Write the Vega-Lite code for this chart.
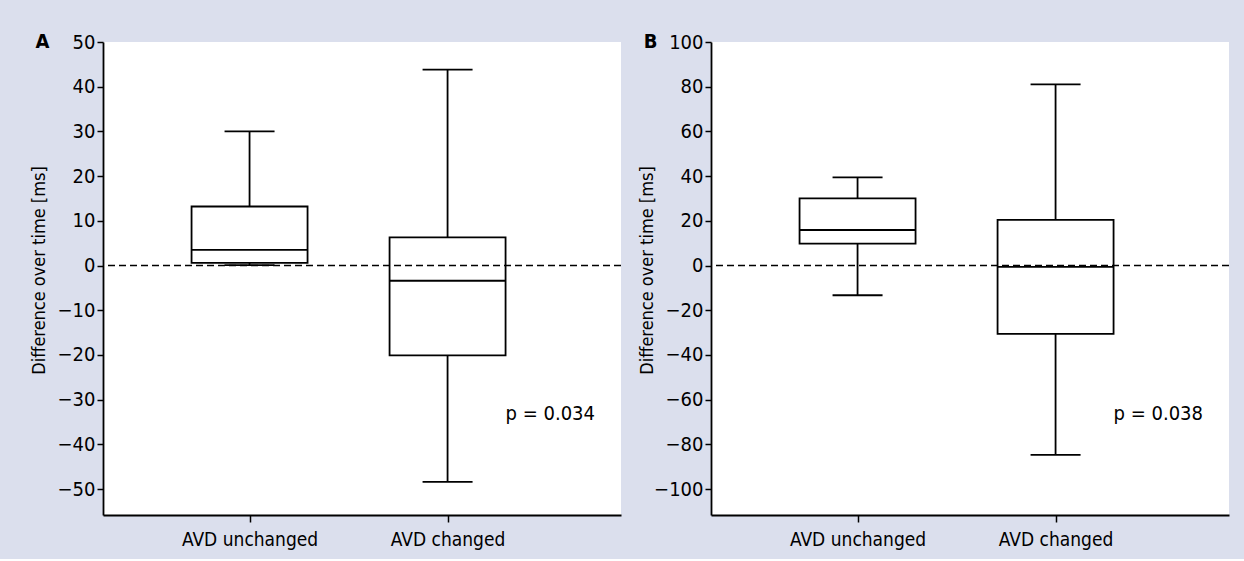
{
  "$schema": "https://vega.github.io/schema/vega-lite/v6.json",
  "background": "#dbdfed",
  "padding": {"left": 30, "top": 32, "right": 14, "bottom": 10},
  "bounds": "flush",
  "spacing": 90,
  "config": {
    "font": "Liberation Sans Narrow, DejaVu Sans Condensed, Roboto Condensed, Arial Narrow, sans-serif",
    "view": {"fill": "white", "stroke": null},
    "axis": {"domainColor": "black", "domainWidth": 1.8, "tickColor": "black", "tickWidth": 1.5, "labelColor": "black", "titleColor": "black", "grid": false, "labelFontSize": 20, "titleFontSize": 18, "titleFontWeight": "normal"}
  },
  "datasets": {
    "panelA": [
      {"group": "AVD unchanged", "min": 0.1, "q1": 0.6, "median": 3.5, "q3": 13.2, "max": 30},
      {"group": "AVD changed", "min": -48.4, "q1": -20.1, "median": -3.4, "q3": 6.3, "max": 43.8}
    ],
    "panelB": [
      {"group": "AVD unchanged", "min": -13.3, "q1": 9.8, "median": 15.9, "q3": 30.0, "max": 39.4},
      {"group": "AVD changed", "min": -84.7, "q1": -30.6, "median": -0.6, "q3": 20.4, "max": 81}
    ]
  },
  "hconcat": [
    {
      "width": 518, "height": 473,
      "data": {"name": "panelA"},
      "layer": [
        {
          "mark": {"type": "rule", "color": "black", "strokeWidth": 1.8},
          "encoding": {
            "x": {"field": "group", "type": "nominal", "scale": {"type": "point", "domain": ["AVD unchanged", "AVD changed"], "padding": 0.808, "align": 0.458}, "axis": {"title": null, "labelAngle": 0, "tickSize": 7, "labelPadding": 8, "labelFontSize": 19}},
            "y": {"field": "min", "type": "quantitative", "scale": {"domain": [-55.8, 50], "nice": false, "zero": false}, "axis": {"values": [-50, -40, -30, -20, -10, 0, 10, 20, 30, 40, 50], "title": "Difference over time [ms]", "titleX": -55, "titleY": 228, "tickSize": 6, "labelPadding": 2}},
            "y2": {"field": "max"}
          }
        },
        {
          "mark": {"type": "bar", "size": 116, "fill": "white", "stroke": "black", "strokeWidth": 1.8},
          "encoding": {
            "x": {"field": "group", "type": "nominal"},
            "y": {"field": "q1", "type": "quantitative"},
            "y2": {"field": "q3"}
          }
        },
        {
          "mark": {"type": "tick", "size": 116, "thickness": 1.8, "color": "black", "opacity": 1},
          "encoding": {"x": {"field": "group", "type": "nominal"}, "y": {"field": "median", "type": "quantitative"}}
        },
        {
          "mark": {"type": "tick", "size": 50, "thickness": 1.8, "color": "black", "opacity": 1},
          "encoding": {"x": {"field": "group", "type": "nominal"}, "y": {"field": "min", "type": "quantitative"}}
        },
        {
          "mark": {"type": "tick", "size": 50, "thickness": 1.8, "color": "black", "opacity": 1},
          "encoding": {"x": {"field": "group", "type": "nominal"}, "y": {"field": "max", "type": "quantitative"}}
        },
        {
          "data": {"values": [{}]},
          "mark": {"type": "rule", "color": "black", "strokeWidth": 1.5, "strokeDash": [7, 4]},
          "encoding": {"y": {"datum": 0}}
        },
        {
          "data": {"values": [{}]},
          "mark": {"type": "text", "align": "left", "baseline": "middle", "dx": 58, "fontSize": 20, "color": "black"},
          "encoding": {"x": {"datum": "AVD changed"}, "y": {"datum": -33.2}, "text": {"value": "p = 0.034"}}
        },
        {
          "data": {"values": [{}]},
          "mark": {"type": "text", "align": "center", "baseline": "middle", "dx": -207, "fontSize": 20, "fontWeight": "bold", "color": "black"},
          "encoding": {"x": {"datum": "AVD unchanged"}, "y": {"datum": 50}, "text": {"value": "A"}}
        }
      ]
    },
    {
      "width": 518, "height": 473,
      "data": {"name": "panelB"},
      "layer": [
        {
          "mark": {"type": "rule", "color": "black", "strokeWidth": 1.8},
          "encoding": {
            "x": {"field": "group", "type": "nominal", "scale": {"type": "point", "domain": ["AVD unchanged", "AVD changed"], "padding": 0.808, "align": 0.458}, "axis": {"title": null, "labelAngle": 0, "tickSize": 7, "labelPadding": 8, "labelFontSize": 19}},
            "y": {"field": "min", "type": "quantitative", "scale": {"domain": [-111.6, 100], "nice": false, "zero": false}, "axis": {"values": [-100, -80, -60, -40, -20, 0, 20, 40, 60, 80, 100], "title": "Difference over time [ms]", "titleX": -55, "titleY": 228, "tickSize": 6, "labelPadding": 2}},
            "y2": {"field": "max"}
          }
        },
        {
          "mark": {"type": "bar", "size": 116, "fill": "white", "stroke": "black", "strokeWidth": 1.8},
          "encoding": {
            "x": {"field": "group", "type": "nominal"},
            "y": {"field": "q1", "type": "quantitative"},
            "y2": {"field": "q3"}
          }
        },
        {
          "mark": {"type": "tick", "size": 116, "thickness": 1.8, "color": "black", "opacity": 1},
          "encoding": {"x": {"field": "group", "type": "nominal"}, "y": {"field": "median", "type": "quantitative"}}
        },
        {
          "mark": {"type": "tick", "size": 50, "thickness": 1.8, "color": "black", "opacity": 1},
          "encoding": {"x": {"field": "group", "type": "nominal"}, "y": {"field": "min", "type": "quantitative"}}
        },
        {
          "mark": {"type": "tick", "size": 50, "thickness": 1.8, "color": "black", "opacity": 1},
          "encoding": {"x": {"field": "group", "type": "nominal"}, "y": {"field": "max", "type": "quantitative"}}
        },
        {
          "data": {"values": [{}]},
          "mark": {"type": "rule", "color": "black", "strokeWidth": 1.5, "strokeDash": [7, 4]},
          "encoding": {"y": {"datum": 0}}
        },
        {
          "data": {"values": [{}]},
          "mark": {"type": "text", "align": "left", "baseline": "middle", "dx": 58, "fontSize": 20, "color": "black"},
          "encoding": {"x": {"datum": "AVD changed"}, "y": {"datum": -66.4}, "text": {"value": "p = 0.038"}}
        },
        {
          "data": {"values": [{}]},
          "mark": {"type": "text", "align": "center", "baseline": "middle", "dx": -207, "fontSize": 20, "fontWeight": "bold", "color": "black"},
          "encoding": {"x": {"datum": "AVD unchanged"}, "y": {"datum": 100}, "text": {"value": "B"}}
        }
      ]
    }
  ]
}
